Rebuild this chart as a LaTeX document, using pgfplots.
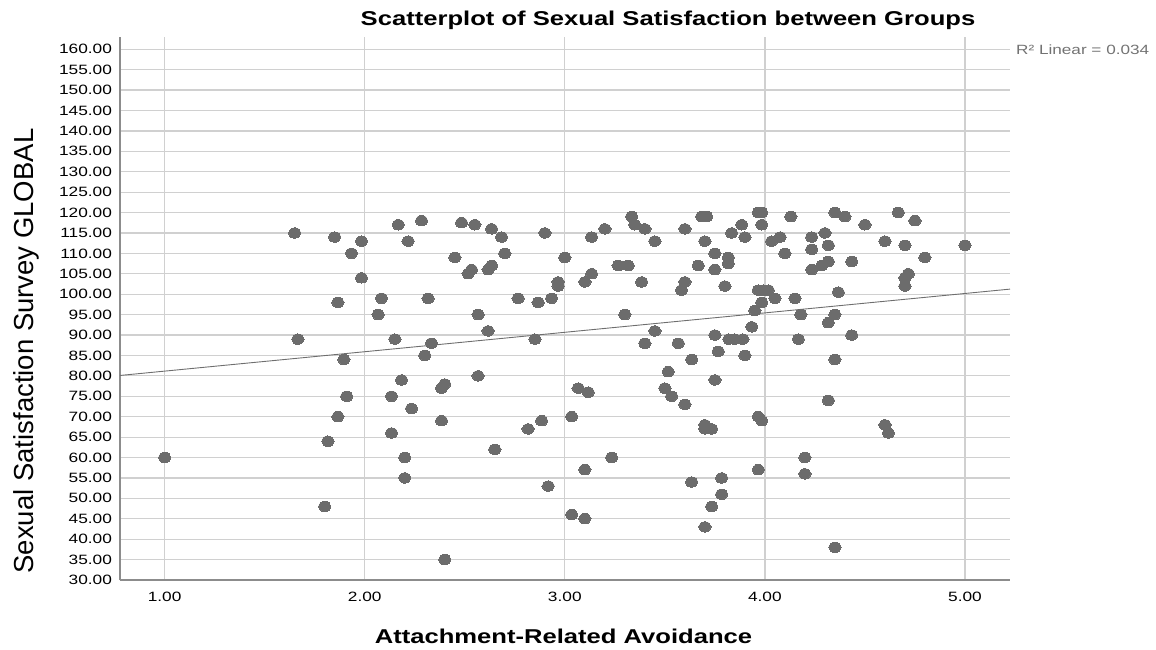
\documentclass[border=0pt]{standalone}
\usepackage{fontspec}
\setmainfont{Liberation Sans}
\newfontfamily\wfont[FakeStretch=1.28]{Liberation Sans}
\usepackage{pgfplots}
\pgfplotsset{compat=1.18}
\definecolor{dotc}{RGB}{108,108,108}
\definecolor{gridc}{RGB}{208,208,208}
\definecolor{spinec}{RGB}{140,140,140}
\definecolor{linec}{RGB}{110,110,110}
\definecolor{txtgray}{RGB}{115,115,115}
\begin{document}
\begin{tikzpicture}[x=1pt,y=1pt]
\useasboundingbox (0,0) rectangle (1156,649);
\begin{axis}[
  at={(120pt,69pt)}, anchor=south west,
  scale only axis, width=890pt, height=543pt,
  xmin=0.777, xmax=5.225, ymin=30, ymax=163,
  axis x line=bottom, axis y line=left,
  axis line style={-, draw=spinec, line width=1.5pt},
  xtick={1,2,3,4,5}, ytick={30,35,...,160},
  grid=major, major grid style={draw=gridc, line width=1.2pt},
  major tick length=0pt,
  xticklabel style={font=\wfont\fontsize{13.5}{14}\selectfont, yshift=-8.5pt},
  yticklabel style={font=\wfont\fontsize{13.5}{14}\selectfont, xshift=-4.5pt},
  /pgf/number format/.cd, fixed, fixed zerofill, precision=2, assume math mode=true,
  /pgfplots/.cd,
  clip=false,
]
\addplot[draw=linec, line width=0.9pt, no marks] coordinates {(0.777,80.1) (5.225,101.25)};
\addplot[only marks, color=dotc, mark=*, mark size=5.2pt, mark options={xscale=1.2, fill=dotc, draw=dotc, line width=0pt}] coordinates {
(1.00,60) (1.65,115) (1.666,89) (1.80,48) (1.816,64) (1.85,114) (1.866,98) (1.866,70)
(1.896,84) (1.91,75) (1.934,110) (1.984,113) (1.984,104) (2.067,95) (2.084,99) (2.134,75)
(2.134,66) (2.151,89) (2.168,117) (2.184,79) (2.20,60) (2.20,55) (2.217,113) (2.234,72)
(2.284,118) (2.30,85) (2.317,99) (2.334,88) (2.384,77) (2.40,78) (2.384,69) (2.40,35)
(2.451,109) (2.484,117.5) (2.517,105) (2.534,106) (2.55,117) (2.567,95) (2.567,80) (2.617,106)
(2.634,107) (2.617,91) (2.634,116) (2.65,62) (2.684,114) (2.70,110) (2.767,99) (2.817,67)
(2.851,89) (2.867,98) (2.884,69) (2.90,115) (2.917,53) (2.934,99) (2.967,103) (2.967,102)
(3.00,109) (3.034,70) (3.034,46) (3.067,77) (3.10,103) (3.10,57) (3.10,45) (3.117,76)
(3.134,114) (3.134,105) (3.20,116) (3.234,60) (3.267,107) (3.317,107) (3.30,95) (3.334,119)
(3.35,117) (3.384,103) (3.40,116) (3.40,88) (3.45,113) (3.45,91) (3.50,77) (3.517,81)
(3.534,75) (3.567,88) (3.584,101) (3.60,103) (3.60,116) (3.60,73) (3.634,84) (3.634,54)
(3.667,107) (3.684,119) (3.709,119) (3.70,113) (3.70,68) (3.70,67) (3.734,67) (3.70,43)
(3.734,48) (3.75,110) (3.75,106) (3.75,90) (3.75,79) (3.767,86) (3.784,55) (3.784,51)
(3.80,102) (3.817,109) (3.817,107.5) (3.834,115) (3.82,89) (3.85,89) (3.89,89) (3.884,117)
(3.90,114) (3.90,85) (3.934,92) (3.95,96) (3.967,120) (3.984,120) (3.984,117) (3.967,101)
(3.992,101) (4.017,101) (3.984,98) (3.967,70) (3.984,69) (3.967,57) (4.034,113) (4.05,99)
(4.076,114) (4.10,110) (4.13,119) (4.15,99) (4.167,89) (4.18,95) (4.20,60) (4.20,56)
(4.234,114) (4.234,111) (4.234,106) (4.284,107) (4.30,115) (4.317,112) (4.317,108) (4.317,93)
(4.317,74) (4.35,120) (4.35,95) (4.35,84) (4.35,38) (4.367,100.5) (4.40,119) (4.434,108)
(4.434,90) (4.50,117) (4.60,113) (4.60,68) (4.617,66) (4.667,120) (4.70,112) (4.70,104)
(4.70,102) (4.717,105) (4.75,118) (4.80,109) (5.00,112)
};
\end{axis}
\node[anchor=base, font=\wfont\bfseries\fontsize{20}{22}\selectfont] at (668,623) {Scatterplot of Sexual Satisfaction between Groups};
\node[anchor=base, font=\wfont\bfseries\fontsize{20}{22}\selectfont] at (563.5,6) {Attachment-Related Avoidance};
\node[anchor=base, rotate=90, font=\fontsize{27.5}{30}\selectfont] at (33,298) {Sexual Satisfaction Survey GLOBAL};
\node[anchor=base west, inner sep=0pt, text=txtgray, font=\wfont\fontsize{13.4}{14}\selectfont] at (1016,594.2) {R² Linear = 0.034};
\end{tikzpicture}
\end{document}
